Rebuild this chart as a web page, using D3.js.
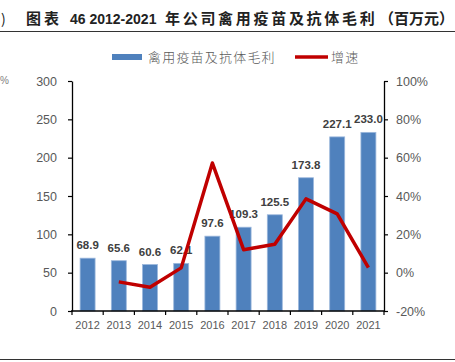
<!DOCTYPE html>
<html>
<head>
<meta charset="utf-8">
<script src="https://cdn.jsdelivr.net/npm/d3@7"></script>
<style>
  body { margin: 0; background: #fff; }
  text { font-family: "Liberation Sans", Arial, sans-serif; }
  .cjk { font-family: "Noto Sans CJK SC", sans-serif; }
</style>
</head>
<body>
<div id="chart"></div>
<script>
// data
var years = ["2012", "2013", "2014", "2015", "2016", "2017", "2018", "2019", "2020", "2021"];
var profit = [68.9, 65.6, 60.6, 62.1, 97.6, 109.3, 125.5, 173.8, 227.1, 233.0];
var growthYears = ["2013", "2014", "2015", "2016", "2017", "2018", "2019", "2020", "2021"];
var growth = [-0.048, -0.076, 0.025, 0.572, 0.120, 0.148, 0.385, 0.307, 0.026];
var leftTicks = [0, 50, 100, 150, 200, 250, 300];
var rightTicks = [-0.2, 0, 0.2, 0.4, 0.6, 0.8, 1.0];

var svgWidth = 455;
var svgHeight = 362;

var plot = { left: 72, right: 384, top: 81, bottom: 311 };

var svg = d3.select("#chart")
    .append("svg")
    .attr("width", svgWidth)
    .attr("height", svgHeight);

// title + rules
svg.append("text")
    .attr("x", 1)
    .attr("y", 24)
    .attr("class", "cjk")
    .attr("font-size", 14)
    .attr("fill", "#222")
    .text(")");

var title = svg.append("text")
    .attr("y", 24)
    .attr("font-weight", "bold")
    .attr("fill", "#222");
title.append("tspan")
    .attr("x", 26)
    .attr("class", "cjk")
    .attr("font-size", 15)
    .attr("letter-spacing", 3)
    .text("图表");
title.append("tspan")
    .attr("x", 70)
    .attr("font-size", 14)
    .text("46 2012-2021");
title.append("tspan")
    .attr("x", 165)
    .attr("class", "cjk")
    .attr("font-size", 15)
    .attr("letter-spacing", 2.7)
    .text("年公司禽用疫苗及抗体毛利");
title.append("tspan")
    .attr("x", 379)
    .attr("class", "cjk")
    .attr("font-size", 15)
    .text("（百万元）");

svg.append("line")
    .attr("x1", 0).attr("x2", svgWidth)
    .attr("y1", 31.5).attr("y2", 31.5)
    .attr("stroke", "#333").attr("stroke-width", 1);
svg.append("line")
    .attr("x1", 0).attr("x2", svgWidth)
    .attr("y1", 359.5).attr("y2", 359.5)
    .attr("stroke", "#333").attr("stroke-width", 1.2);

// leftover from the neighbouring chart
svg.append("text")
    .attr("x", 0)
    .attr("y", 84)
    .attr("font-size", 10)
    .attr("fill", "#7f7f7f")
    .text("%");

// scales
var x = d3.scaleBand()
    .domain(years)
    .range([plot.left, plot.right])
    .paddingInner(0.52)
    .paddingOuter(0.26);

var yLeft = d3.scaleLinear()
    .domain([0, 300])
    .range([plot.bottom, plot.top]);

var yRight = d3.scaleLinear()
    .domain([-0.2, 1.0])
    .range([plot.bottom, plot.top]);

// bars
svg.append("g")
    .selectAll("rect")
    .data(profit)
    .enter()
    .append("rect")
    .attr("x", (d, i) => x(years[i]))
    .attr("y", d => yLeft(d))
    .attr("width", x.bandwidth())
    .attr("height", d => yLeft(0) - yLeft(d))
    .attr("fill", "#4F81BD")
    .attr("stroke", "#9bb7dc")
    .attr("stroke-width", 0.8);

// bar labels
svg.append("g")
    .selectAll("text")
    .data(profit)
    .enter()
    .append("text")
    .attr("x", (d, i) => x(years[i]) + x.bandwidth() / 2)
    .attr("y", d => yLeft(d) - 9)
    .attr("text-anchor", "middle")
    .attr("font-size", 11.5)
    .attr("font-weight", "bold")
    .attr("fill", "#404040")
    .text(d => d.toFixed(1));

// growth line
var line = d3.line()
    .x((d, i) => x(growthYears[i]) + x.bandwidth() / 2)
    .y(d => yRight(d));

svg.append("path")
    .datum(growth)
    .attr("d", line)
    .attr("fill", "none")
    .attr("stroke", "#C00000")
    .attr("stroke-width", 3.5)
    .attr("stroke-linejoin", "round");

// left axis
var leftAxis = d3.axisLeft(yLeft)
    .tickValues(leftTicks)
    .tickSizeInner(4)
    .tickSizeOuter(0)
    .tickPadding(11);
var gl = svg.append("g")
    .attr("transform", `translate(${plot.left}, 0)`)
    .call(leftAxis);

// right axis
var rightAxis = d3.axisRight(yRight)
    .tickValues(rightTicks)
    .tickSizeInner(4)
    .tickSizeOuter(0)
    .tickPadding(8)
    .tickFormat(d => Math.round(d * 100) + "%");
var gr = svg.append("g")
    .attr("transform", `translate(${plot.right}, 0)`)
    .call(rightAxis);

// bottom axis: ticks at band edges
var gb = svg.append("g")
    .attr("transform", `translate(0, ${plot.bottom})`);
gb.append("line")
    .attr("x1", plot.left - 1).attr("x2", plot.right + 1)
    .attr("y1", 0).attr("y2", 0)
    .attr("stroke", "#000").attr("stroke-width", 1.3);
gb.selectAll(".edge")
    .data(years.concat(["end"]))
    .enter()
    .append("line")
    .attr("x1", (d, i) => plot.left + i * x.step())
    .attr("x2", (d, i) => plot.left + i * x.step())
    .attr("y1", 0).attr("y2", 4)
    .attr("stroke", "#000").attr("stroke-width", 1.2);
gb.selectAll(".lab")
    .data(years)
    .enter()
    .append("text")
    .attr("x", d => x(d) + x.bandwidth() / 2)
    .attr("y", 18)
    .attr("text-anchor", "middle")
    .attr("font-size", 11)
    .attr("fill", "#595959")
    .text(d => d);

[gl, gr].forEach(function(g) {
    g.select(".domain").attr("stroke", "#000").attr("stroke-width", 1.3);
    g.selectAll(".tick line").attr("stroke", "#000").attr("stroke-width", 1.2);
    g.selectAll(".tick text")
        .attr("font-size", 12.5)
        .attr("fill", "#595959")
        .style("font-family", "'Liberation Sans', Arial, sans-serif");
});

// legend
var legend = svg.append("g");
legend.append("rect")
    .attr("x", 112).attr("y", 54)
    .attr("width", 30).attr("height", 6)
    .attr("fill", "#4F81BD");
legend.append("text")
    .attr("x", 148).attr("y", 62)
    .attr("class", "cjk")
    .attr("font-size", 13)
    .attr("font-weight", 300)
    .attr("letter-spacing", 1.2)
    .attr("fill", "#595959")
    .text("禽用疫苗及抗体毛利");
legend.append("line")
    .attr("x1", 295).attr("x2", 328)
    .attr("y1", 57).attr("y2", 57)
    .attr("stroke", "#C00000")
    .attr("stroke-width", 3.5);
legend.append("text")
    .attr("x", 331).attr("y", 62)
    .attr("class", "cjk")
    .attr("font-size", 13)
    .attr("font-weight", 300)
    .attr("letter-spacing", 1.2)
    .attr("fill", "#595959")
    .text("增速");
</script>
</body>
</html>
